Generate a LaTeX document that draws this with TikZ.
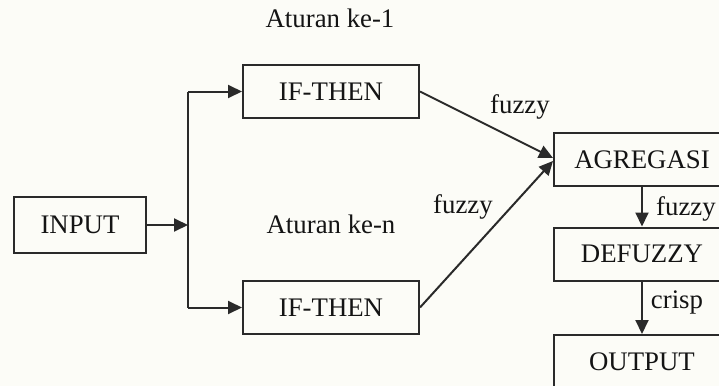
\documentclass[tikz,border=0pt]{standalone}
\usepackage{fontspec}
\setmainfont{Liberation Serif}
\usetikzlibrary{arrows.meta, calc}
\definecolor{paper}{HTML}{FCFCF7}
\definecolor{ink}{HTML}{141414}
\definecolor{edge}{HTML}{2A2A2A}

\begin{document}
\begin{tikzpicture}[x=0.5pt, y=-0.5pt,
  >={Triangle[length=7pt, width=6.5pt]},
  box/.style={draw=edge, line width=1pt, fill=paper, inner sep=0pt,
    minimum width=88pt, minimum height=26.5pt, text=ink,
    font=\fontsize{13.4}{15}\selectfont},
  lbl/.style={text=ink, inner sep=0pt, font=\fontsize{13.4}{15}\selectfont},
  flow/.style={draw=edge, line width=1pt}]

% Page
\clip (0,0) rectangle (719,386);
\fill[paper] (0,0) rectangle (719,386);

% ================================================================
% Input and fork
% ================================================================
\node[box, minimum width=66pt, minimum height=28pt] (input) at (80,225) {INPUT};

\coordinate (fork) at (188,225);
\coordinate (fork-top) at (188,91.5);
\coordinate (fork-bot) at (188,307.5);

% ================================================================
% Rule blocks
% ================================================================
\node[box] (rule1) at (331,91.5) {IF-THEN};
\node[box] (rulen) at (331,307.5) {IF-THEN};

\node[lbl] (aturan1) at (330,18) {Aturan ke-1};
\node[lbl] (aturann) at (331,224) {Aturan ke-n};

% ================================================================
% Right column
% ================================================================
\node[box] (agregasi) at (642,159.5) {AGREGASI};
\node[box] (defuzzy) at (642,254) {DEFUZZY};
\node[box] (output) at (642,361.5) {OUTPUT};

% ================================================================
% Connectors
% ================================================================
\draw[flow, ->] (input) -- (fork);
\draw[flow] (fork-top) -- (fork-bot);
\draw[flow, ->] (fork-top) -- (rule1);
\draw[flow, ->] (fork-bot) -- (rulen);

\draw[flow, ->] (rule1.east) -- ($(agregasi.west)+(0,-1.5)$);
\draw[flow, ->] (rulen.east) -- ($(agregasi.west)+(0,1.5)$);
\node[lbl] (fz1) at (520,107) {fuzzy};
\node[lbl] (fzn) at (463,207) {fuzzy};

\draw[flow, ->] (agregasi) -- (defuzzy);
\node[lbl] (fzagr) at (686,209) {fuzzy};

\draw[flow, ->] (defuzzy) -- (output);
\node[lbl] (crisp) at (677,302) {crisp};

\end{tikzpicture}
\end{document}
